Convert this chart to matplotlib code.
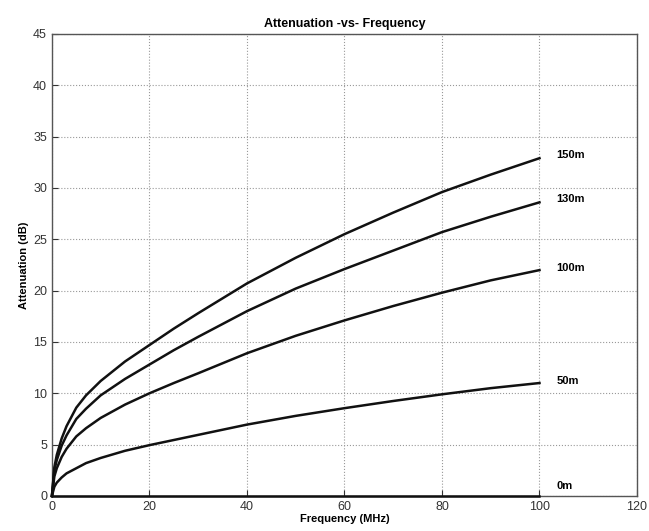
import numpy as np
import matplotlib.pyplot as plt

plt.rcParams['font.family'] = ['Liberation Sans', 'DejaVu Sans']

# values
freq = [0, 0.5, 1, 2, 3, 5, 7, 10, 15, 20, 25, 30, 40, 50, 60, 70, 80, 90, 100]
att_150 = [0, 2.8, 4.0, 5.6, 6.8, 8.6, 9.8, 11.2, 13.1, 14.7, 16.3, 17.8, 20.7, 23.2, 25.5, 27.6, 29.6, 31.3, 32.9]
att_130 = [0, 2.5, 3.5, 4.9, 5.9, 7.5, 8.5, 9.8, 11.4, 12.8, 14.2, 15.5, 18.0, 20.2, 22.1, 23.9, 25.7, 27.2, 28.6]
att_100 = [0, 1.9, 2.7, 3.8, 4.6, 5.8, 6.6, 7.6, 8.9, 10.0, 11.0, 11.95, 13.9, 15.6, 17.1, 18.5, 19.8, 21.0, 22.0]
att_50 = [0, 0.9, 1.3, 1.8, 2.2, 2.7, 3.2, 3.7, 4.4, 4.95, 5.45, 5.95, 6.95, 7.8, 8.55, 9.25, 9.9, 10.5, 11.0]
att_0 = [0] * len(freq)

series = [("150m", att_150, 33.2), ("130m", att_130, 28.9), ("100m", att_100, 22.2),
          ("50m", att_50, 11.2), ("0m", att_0, 1.0)]

fig = plt.figure(figsize=(6.49, 5.31), dpi=100)
ax = fig.add_axes([0.080, 0.066, 0.9015, 0.870])

for name, vals, ylab in series:
    ax.plot(freq, vals, color='#111111', lw=1.8, clip_on=False, zorder=3,
            solid_joinstyle='round')
    ax.text(103.5, ylab, name, fontsize=8, fontweight='bold', va='center', ha='left')

ax.set_xlim(0, 120)
ax.set_ylim(0, 45)
ax.set_xticks(range(0, 121, 20))
ax.set_yticks(range(0, 46, 5))
ax.grid(True, linestyle=':', color='#999999', lw=0.8)
ax.tick_params(direction='in', length=4, labelsize=9, colors='#333333')
for s in ax.spines.values():
    s.set_color('#555555')
    s.set_linewidth(1.0)

ax.set_title("Attenuation -vs- Frequency", fontsize=9, fontweight='bold', pad=5)
ax.set_xlabel("Frequency (MHz)", fontsize=8, fontweight='bold', labelpad=1)
ax.set_ylabel("Attenuation (dB)", fontsize=8, fontweight='bold', labelpad=3)

fig.savefig("out.png", dpi=100)
